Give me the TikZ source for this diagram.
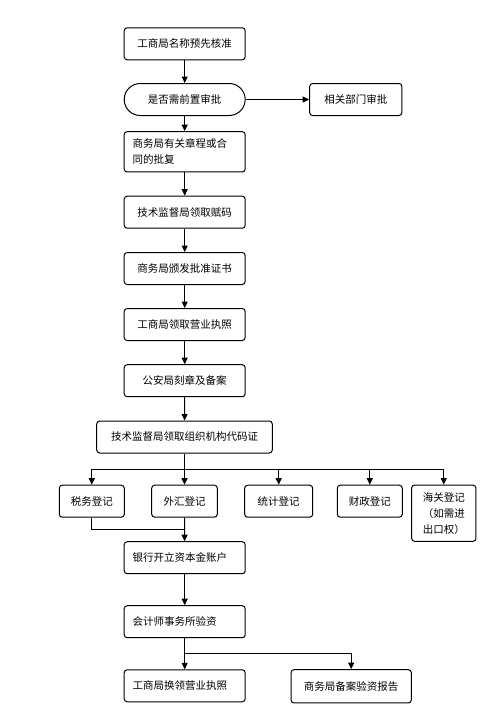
\documentclass[tikz,border=0pt]{standalone}
\usepackage{fontspec}
\newfontfamily\cjk{Noto Sans CJK SC}
\usetikzlibrary{arrows.meta,positioning}

\begin{document}
\begin{tikzpicture}[x=1pt,y=-1pt,
  stepbox/.style={draw, rounded corners=3pt, line width=1pt, minimum height=32pt, minimum width=121pt, inner sep=0pt, align=center, font=\cjk\fontsize{10.5}{16}\selectfont},
  leftbox/.style={stepbox, align=left, inner xsep=8.5pt, text width=104pt},
  askbox/.style={stepbox, rounded corners=16pt},
  arr/.style={line width=1pt, -{Triangle[length=6.5pt,width=6pt]}},
  ln/.style={line width=1pt}]
  \useasboundingbox (0,0) rectangle (500,713);
  \node [stepbox] (name) at (184.7,43.8) {工商局名称预先核准};
  \node [askbox] (ask) at (184.7,99.5) {是否需前置审批};
  \node [stepbox, minimum width=92.3pt] (rel) at (355.8,99.5) {相关部门审批};
  \node [leftbox, minimum height=40.3pt] (reply) at (184.7,151.8) {商务局有关章程或合\\同的批复};
  \node [stepbox] (code) at (184.7,212.2) {技术监督局领取赋码};
  \node [stepbox] (cert) at (184.7,268.5) {商务局颁发批准证书};
  \node [stepbox] (lic) at (184.7,324.5) {工商局领取营业执照};
  \node [stepbox] (seal) at (184.7,380.7) {公安局刻章及备案};
  \node [stepbox, minimum width=175.6pt] (org) at (184.5,437) {技术监督局领取组织机构代码证};
  \node [stepbox, minimum width=65pt] (tax) at (91.8,501.2) {税务登记};
  \node [stepbox, minimum width=65.6pt] (forex) at (184.5,501.2) {外汇登记};
  \node [stepbox, minimum width=68pt] (stat) at (278.7,501.2) {统计登记};
  \node [stepbox, minimum width=65pt] (fin) at (369.8,501.2) {财政登记};
  \node [stepbox, minimum width=64.3pt, minimum height=56.3pt] (customs) at (443.8,513.2) {海关登记\\（如需进\\出口权）};
  \node [leftbox] (bank) at (184.7,557.7) {银行开立资本金账户};
  \node [leftbox] (audit) at (184.7,621.7) {会计师事务所验资};
  \node [leftbox] (newlic) at (184.7,685.8) {工商局换领营业执照};
  \node [stepbox, minimum width=120.3pt, minimum height=33.3pt] (filing) at (351.2,686.3) {商务局备案验资报告};
  \coordinate (bus) at (184.5,469);
  \coordinate (join) at (184.5,529.3);
  \coordinate (split) at (184.5,653.3);
  \draw [arr] (name) -- (ask);
  \draw [arr] (ask) -- (rel);
  \draw [arr] (ask) -- (reply);
  \draw [arr] (reply) -- (code);
  \draw [arr] (code) -- (cert);
  \draw [arr] (cert) -- (lic);
  \draw [arr] (lic) -- (seal);
  \draw [arr] (seal) -- (org);
  \draw [ln] (org) -- (bus);
  \draw [arr] (bus) -| (tax);
  \draw [arr] (bus) -- (forex);
  \draw [arr] (bus) -| (stat);
  \draw [arr] (bus) -| (fin);
  \draw [arr] (bus) -| (customs);
  \draw [ln] (tax) |- (join);
  \draw [arr] (forex) -- (bank);
  \draw [arr] (bank) -- (audit);
  \draw [arr] (audit) -- (newlic);
  \draw [arr] (split) -| (filing);
\end{tikzpicture}
\end{document}
